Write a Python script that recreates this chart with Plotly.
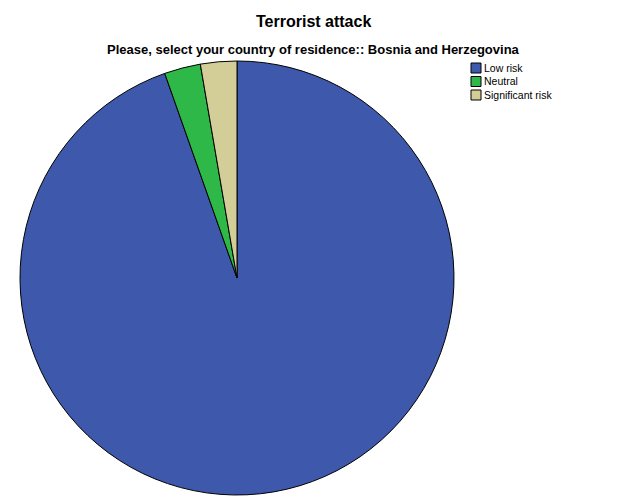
import plotly.graph_objects as go

categories = ["Low risk", "Neutral", "Significant risk"]
counts = [35, 1, 1]
colors = ["#3E58AC", "#2EB848", "#D3CE97"]

W, H = 626, 501
cx, cy, r = 237, 278, 217

fig = go.Figure(go.Pie(
    labels=categories,
    values=counts,
    sort=False,
    direction="clockwise",
    rotation=0,
    textinfo="none",
    hoverinfo="label+value+percent",
    showlegend=False,
    marker=dict(colors=colors, line=dict(color="black", width=1)),
    domain=dict(x=[(cx - r) / W, (cx + r) / W], y=[(H - cy - r) / H, (H - cy + r) / H]),
))

# legend drawn as swatches + labels (SPSS-style compact legend)
shapes = []
annotations = [
    dict(text="<b>Terrorist attack</b>", x=313 / W, y=1 - 21 / H, xref="paper", yref="paper",
         showarrow=False, font=dict(size=16), xanchor="center", yanchor="middle"),
    dict(text="<b>Please, select your country of residence:: Bosnia and Herzegovina</b>",
         x=313 / W, y=1 - 49 / H, xref="paper", yref="paper",
         showarrow=False, font=dict(size=13), xanchor="center", yanchor="middle"),
]
lx0, ly0, step, sz = 471, 68, 13.5, 10
for i, (lab, col) in enumerate(zip(categories, colors)):
    yc = ly0 + i * step
    shapes.append(dict(type="rect", xref="paper", yref="paper",
                       x0=lx0 / W, x1=(lx0 + sz) / W,
                       y0=1 - (yc - sz / 2) / H, y1=1 - (yc + sz / 2) / H,
                       fillcolor=col, line=dict(color="black", width=1)))
    annotations.append(dict(text=lab, x=(lx0 + sz + 1) / W, y=1 - yc / H,
                            xref="paper", yref="paper", showarrow=False,
                            xanchor="left", yanchor="middle", font=dict(size=10.5)))

fig.update_layout(
    width=W, height=H,
    margin=dict(l=0, r=0, t=0, b=0),
    paper_bgcolor="white",
    font=dict(family="Liberation Sans, Arial, sans-serif", color="black"),
    shapes=shapes,
    annotations=annotations,
)

fig.write_html("out.html", config={"displayModeBar": False},
               post_script="document.body.style.margin='0';")
